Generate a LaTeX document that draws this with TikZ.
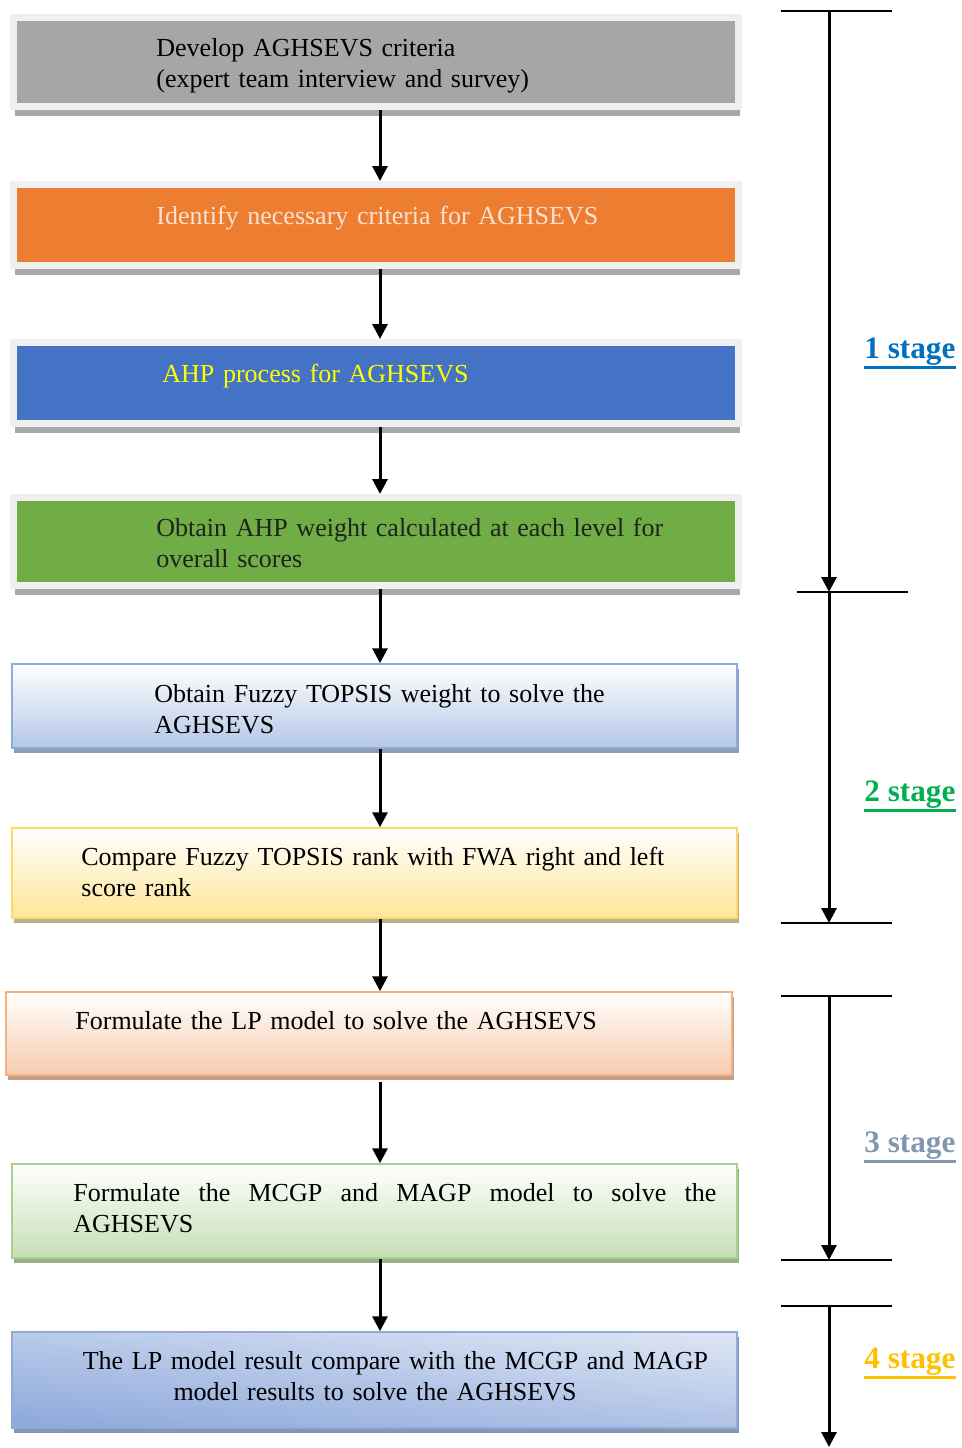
\documentclass[tikz,border=0pt]{standalone}
\usepackage{fontspec}
\setmainfont{Liberation Serif}
\usetikzlibrary{arrows.meta, shadows}

\definecolor{framegray}{HTML}{F0F0F0}
\definecolor{shadowgray}{HTML}{A8A8A8}
\definecolor{boxgray}{HTML}{A6A6A6}
\definecolor{boxorange}{HTML}{ED7D31}
\definecolor{boxblue}{HTML}{4472C4}
\definecolor{boxgreen}{HTML}{70AD47}
\definecolor{textpeach}{HTML}{FBE2D0}
\definecolor{textyellow}{HTML}{FFFF00}
\definecolor{textdark}{HTML}{1E2418}
\definecolor{fuzzyline}{HTML}{8EAADB}
\definecolor{fuzzyfill}{HTML}{B4C7E7}
\definecolor{fuzzyshadow}{HTML}{8C9DB8}
\definecolor{rankline}{HTML}{FFD966}
\definecolor{rankfill}{HTML}{FFE699}
\definecolor{rankshadow}{HTML}{B8B08A}
\definecolor{lpline}{HTML}{F4B183}
\definecolor{lpfill}{HTML}{F8CBAD}
\definecolor{lpshadow}{HTML}{C49E84}
\definecolor{gpline}{HTML}{A9D18E}
\definecolor{gpfill}{HTML}{C5E0B4}
\definecolor{gpshadow}{HTML}{98AD88}
\definecolor{cmpline}{HTML}{8FAADC}
\definecolor{cmptop}{HTML}{DAE3F3}
\definecolor{cmpshadow}{HTML}{8497B0}
\definecolor{stageone}{HTML}{0070C0}
\definecolor{stagetwo}{HTML}{00B050}
\definecolor{stagethree}{HTML}{8497B0}
\definecolor{stagefour}{HTML}{FFC000}

\newcommand{\boxfont}{\fontsize{13}{15.5}\selectfont}
\newcommand{\stagefont}{\fontsize{15.6}{18}\selectfont\bfseries}

\begin{document}
\begin{tikzpicture}[x=0.5pt, y=-0.5pt,
  solidbox/.style={draw=framegray, fill=#1, line width=3.5pt, minimum width=362.5pt,
    inner sep=0pt, drop shadow={shadow xshift=0.5pt, shadow yshift=-4.5pt,
    fill=shadowgray, opacity=1}},
  gradbox/.style n args={3}{draw=#1, top color=white, bottom color=#2, line width=0.75pt,
    minimum width=362.5pt, inner sep=0pt, drop shadow={shadow xshift=1pt,
    shadow yshift=-2.5pt, fill=#3, opacity=1}},
  txt/.style={anchor=base west, inner sep=0pt, text width=300pt, align=left, font=\boxfont},
  flow/.style={line width=1.5pt, -{Triangle[width=7.5pt,length=7.5pt]}},
  tick/.style={line width=1pt},
  stagelbl/.style={anchor=base west, inner sep=0pt, font=\stagefont},
  underl/.style={line width=1.5pt}]

  \useasboundingbox (0,0) rectangle (962,1448);

  % stage 1 boxes
  \node[solidbox=boxgray, minimum height=44.5pt] (criteria) at (376,62) {};
  \node[txt] (criteriatxt) at (156,56) {Develop AGHSEVS criteria\\(expert team interview and survey)};
  \node[solidbox=boxorange, minimum height=40.5pt] (identify) at (376,225) {};
  \node[txt, text=textpeach] (identifytxt) at (156,224) {Identify necessary criteria for AGHSEVS};
  \node[solidbox=boxblue, minimum height=40.5pt] (ahp) at (376,383) {};
  \node[txt, text=textyellow] (ahptxt) at (162,382) {AHP process for AGHSEVS};
  \node[solidbox=boxgreen, minimum height=44pt] (ahpweight) at (376,541.5) {};
  \node[txt, text=textdark] (ahpweighttxt) at (156,536) {Obtain AHP weight calculated at each level for\\overall scores};

  % stage 2 boxes
  \node[gradbox={fuzzyline}{fuzzyfill}{fuzzyshadow}, minimum height=42pt] (topsis) at (374.5,706) {};
  \node[txt] (topsistxt) at (154,702) {Obtain Fuzzy TOPSIS weight to solve the\\AGHSEVS};
  \node[gradbox={rankline}{rankfill}{rankshadow}, minimum height=45pt] (rank) at (374.5,873) {};
  \node[txt] (ranktxt) at (81,865) {Compare Fuzzy TOPSIS rank with FWA right and left\\score rank};

  % stage 3 boxes
  \node[gradbox={lpline}{lpfill}{lpshadow}, minimum width=363pt, minimum height=41.5pt] (lp) at (369,1033.5) {};
  \node[txt] (lptxt) at (75,1029) {Formulate the LP model to solve the AGHSEVS};
  \node[gradbox={gpline}{gpfill}{gpshadow}, minimum height=47pt] (gp) at (374.5,1211) {};
  \node[txt, text width=321.5pt, align=justify] (gptxt) at (73,1201)
    {Formulate the MCGP and MAGP model to solve the\linebreak AGHSEVS};

  % stage 4 box
  \node[gradbox={cmpline}{cmpline}{cmpshadow}, top color=cmptop, shading angle=-6,
    minimum height=48pt] (compare) at (374.5,1380) {};
  \node[txt, anchor=base, text width=340pt, align=center] (comparetxt) at (375,1369)
    {\rule{20.5pt}{0pt}The LP model result compare with the MCGP and MAGP\\model results to solve the AGHSEVS};

  % arrows between the boxes
  \draw[flow] ([xshift=2pt]criteria.south) -- ([xshift=2pt]identify.north);
  \draw[flow] ([xshift=2pt]identify.south) -- ([xshift=2pt]ahp.north);
  \draw[flow] ([xshift=2pt]ahp.south) -- ([xshift=2pt]ahpweight.north);
  \draw[flow] ([xshift=2pt]ahpweight.south) -- ([xshift=2.75pt]topsis.north);
  \draw[flow] ([xshift=2.75pt]topsis.south) -- ([xshift=2.75pt]rank.north);
  \draw[flow] ([xshift=2.75pt]rank.south) -- ([xshift=5.5pt]lp.north);
  \draw[flow] ([xshift=5.5pt,yshift=-3pt]lp.south) -- ([xshift=2.75pt]gp.north);
  \draw[flow] ([xshift=2.75pt]gp.south) -- ([xshift=2.75pt]compare.north);

  % stage ruler
  \coordinate (s1top) at (829,11);
  \coordinate (s1end) at (829,592);
  \coordinate (s2end) at (829,923);
  \coordinate (s3top) at (829,996);
  \coordinate (s3end) at (829,1260);
  \coordinate (s4top) at (829,1306);
  \coordinate (s4end) at (829,1447);
  \draw[tick] (781,11) -- (892,11);
  \draw[tick] (797,592) -- (908,592);
  \draw[tick] (781,923) -- (892,923);
  \draw[tick] (781,996) -- (892,996);
  \draw[tick] (781,1260) -- (892,1260);
  \draw[tick] (781,1306) -- (892,1306);
  \draw[flow] (s1top) -- (s1end);
  \draw[flow] (s1end) -- (s2end);
  \draw[flow] (s3top) -- (s3end);
  \draw[flow] (s4top) -- (s4end);

  \node[stagelbl, text=stageone] (stage1) at (864,358) {1 stage};
  \node[stagelbl, text=stagetwo] (stage2) at (864,801) {2 stage};
  \node[stagelbl, text=stagethree] (stage3) at (864,1152) {3 stage};
  \node[stagelbl, text=stagefour] (stage4) at (864,1368) {4 stage};
  \draw[underl, stageone] ([yshift=-4.5pt]stage1.base west) -- ([yshift=-4.5pt]stage1.base east);
  \draw[underl, stagetwo] ([yshift=-4.5pt]stage2.base west) -- ([yshift=-4.5pt]stage2.base east);
  \draw[underl, stagethree] ([yshift=-4.5pt]stage3.base west) -- ([yshift=-4.5pt]stage3.base east);
  \draw[underl, stagefour] ([yshift=-4.5pt]stage4.base west) -- ([yshift=-4.5pt]stage4.base east);
\end{tikzpicture}
\end{document}
